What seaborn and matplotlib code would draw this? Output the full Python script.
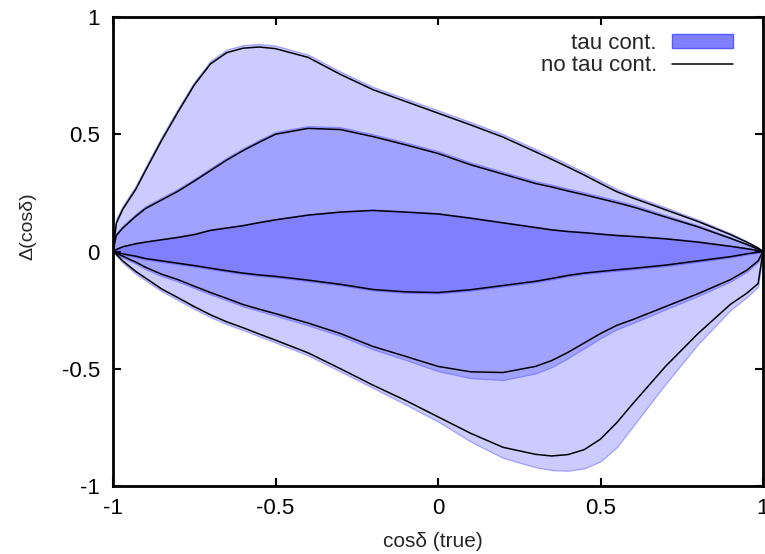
import matplotlib
matplotlib.use("Agg")
import matplotlib.pyplot as plt
import seaborn as sns
import pandas as pd
from matplotlib.patches import Patch
from matplotlib.lines import Line2D

# ---- data ----
x = [-1, -0.99, -0.97, -0.93, -0.9, -0.85, -0.8, -0.75, -0.7, -0.65, -0.6, -0.55, -0.5,
     -0.4, -0.3, -0.2, -0.1, 0, 0.1, 0.2, 0.3, 0.35, 0.4, 0.45, 0.5, 0.55, 0.6,
     0.7, 0.8, 0.9, 0.95, 0.985, 1]

# no tau contribution (black lines)
outer_up = [0, 0.12, 0.18, 0.265, 0.345, 0.475, 0.595, 0.71, 0.80, 0.848, 0.867, 0.872, 0.865,
            0.828, 0.755, 0.69, 0.64, 0.59, 0.54, 0.488, 0.425, 0.393, 0.36, 0.326, 0.29, 0.255, 0.228,
            0.178, 0.128, 0.072, 0.04, 0.015, 0]
mid_up = [0, 0.068, 0.10, 0.15, 0.183, 0.22, 0.257, 0.30, 0.345, 0.39, 0.43, 0.466, 0.50,
          0.525, 0.52, 0.49, 0.455, 0.418, 0.37, 0.33, 0.29, 0.275, 0.258, 0.242, 0.225, 0.208, 0.19,
          0.147, 0.105, 0.056, 0.03, 0.01, 0]
inner_up = [0, 0.008, 0.02, 0.033, 0.04, 0.05, 0.06, 0.072, 0.09, 0.10, 0.11, 0.123, 0.135,
            0.155, 0.168, 0.175, 0.168, 0.16, 0.142, 0.122, 0.102, 0.092, 0.085, 0.08, 0.074, 0.068, 0.064,
            0.054, 0.04, 0.022, 0.012, 0.004, 0]
inner_lo = [0, -0.004, -0.01, -0.02, -0.03, -0.04, -0.05, -0.06, -0.071, -0.082, -0.092, -0.10, -0.106,
            -0.122, -0.14, -0.162, -0.172, -0.175, -0.163, -0.145, -0.127, -0.115, -0.102, -0.092, -0.085, -0.078, -0.072,
            -0.058, -0.04, -0.022, -0.01, -0.003, 0]
mid_lo = [0, -0.008, -0.02, -0.045, -0.067, -0.097, -0.12, -0.148, -0.175, -0.20, -0.226, -0.246, -0.265,
          -0.305, -0.35, -0.405, -0.447, -0.49, -0.513, -0.516, -0.49, -0.465, -0.43, -0.39, -0.35, -0.315, -0.29,
          -0.235, -0.18, -0.12, -0.08, -0.04, 0]
outer_lo = [0, -0.012, -0.04, -0.085, -0.113, -0.16, -0.197, -0.235, -0.27, -0.30, -0.325, -0.352, -0.378,
            -0.432, -0.50, -0.57, -0.635, -0.705, -0.775, -0.835, -0.865, -0.872, -0.866, -0.845, -0.80, -0.73, -0.648,
            -0.49, -0.35, -0.225, -0.178, -0.137, 0]

# with tau contribution (filled bands)
tau_outer_up = [0, 0.14, 0.195, 0.28, 0.36, 0.49, 0.61, 0.723, 0.813, 0.861, 0.88, 0.885, 0.878,
                0.84, 0.767, 0.702, 0.652, 0.602, 0.552, 0.50, 0.437, 0.405, 0.372, 0.338, 0.302, 0.267, 0.238,
                0.188, 0.136, 0.078, 0.044, 0.017, 0]
tau_mid_up = [0, 0.078, 0.11, 0.16, 0.193, 0.23, 0.267, 0.31, 0.355, 0.40, 0.44, 0.476, 0.51,
              0.535, 0.53, 0.50, 0.465, 0.428, 0.38, 0.34, 0.30, 0.285, 0.268, 0.252, 0.235, 0.218, 0.20,
              0.155, 0.112, 0.061, 0.033, 0.012, 0]
tau_inner_up = [0, 0.012, 0.024, 0.037, 0.044, 0.054, 0.064, 0.076, 0.094, 0.104, 0.114, 0.127, 0.139,
                0.159, 0.172, 0.179, 0.172, 0.164, 0.146, 0.126, 0.106, 0.096, 0.089, 0.084, 0.078, 0.072, 0.068,
                0.058, 0.044, 0.025, 0.014, 0.005, 0]
tau_inner_lo = [0, -0.008, -0.014, -0.024, -0.034, -0.044, -0.054, -0.064, -0.075, -0.086, -0.096, -0.104, -0.11,
                -0.126, -0.144, -0.166, -0.176, -0.179, -0.167, -0.149, -0.131, -0.119, -0.106, -0.096, -0.089, -0.082, -0.076,
                -0.062, -0.044, -0.025, -0.013, -0.004, 0]
tau_mid_lo = [0, -0.012, -0.026, -0.052, -0.075, -0.105, -0.128, -0.156, -0.183, -0.208, -0.234, -0.254, -0.274,
              -0.315, -0.36, -0.417, -0.462, -0.51, -0.54, -0.548, -0.52, -0.493, -0.455, -0.412, -0.37, -0.332, -0.305,
              -0.247, -0.19, -0.128, -0.087, -0.045, 0]
tau_outer_lo = [0, -0.016, -0.048, -0.095, -0.123, -0.17, -0.207, -0.245, -0.28, -0.31, -0.335, -0.362, -0.388,
                -0.443, -0.512, -0.582, -0.652, -0.725, -0.81, -0.88, -0.92, -0.932, -0.935, -0.925, -0.895, -0.835, -0.745,
                -0.565, -0.395, -0.25, -0.195, -0.15, 0]

xticks = [-1, -0.5, 0, 0.5, 1]
yticks = [-1, -0.5, 0, 0.5, 1]
xtick_labels = ["-1", "-0.5", "0", "0.5", "1"]
ytick_labels = ["-1", "-0.5", "0", "0.5", "1"]

# ---- plotting ----
sns.set_theme(style="ticks")
plt.rcParams["font.family"] = ["Liberation Sans", "DejaVu Sans"]

FS = 16
fig = plt.figure(figsize=(7.65, 5.54), dpi=100)
ax = fig.add_axes([113 / 765, 68 / 554, 650 / 765, 469 / 554])

bands = [(tau_outer_lo, tau_outer_up), (tau_mid_lo, tau_mid_up), (tau_inner_lo, tau_inner_up)]
for lo, up in bands:
    ax.fill_between(x, lo, up, facecolor=(0, 0, 1, 0.205), edgecolor=(0.3, 0.3, 1, 0.45),
                    linewidth=0.9, zorder=1)

lines = {"outer_up": outer_up, "mid_up": mid_up, "inner_up": inner_up,
         "inner_lo": inner_lo, "mid_lo": mid_lo, "outer_lo": outer_lo}
frames = [pd.DataFrame({"x": x, "y": v, "curve": k}) for k, v in lines.items()]
df = pd.concat(frames, ignore_index=True)
sns.lineplot(data=df, x="x", y="y", units="curve", estimator=None, color="black",
             linewidth=1.1, sort=False, ax=ax, zorder=3, legend=False)

ax.set_xlim(-1, 1)
ax.set_ylim(-1, 1)
ax.set_xticks(xticks)
ax.set_xticklabels(xtick_labels)
ax.set_yticks(yticks)
ax.set_yticklabels(ytick_labels)
ax.tick_params(direction="in", length=6, width=1.5, top=True, right=True,
               labelsize=FS, colors="black")
ax.tick_params(axis="x", pad=8.5)
ax.tick_params(axis="y", pad=9.5)
for s in ax.spines.values():
    s.set_linewidth(2)
    s.set_color("black")

ax.set_xlabel("cosδ (true)", fontsize=15)
ax.set_ylabel("Δ(cosδ)", fontsize=14)
ax.xaxis.set_label_coords(0.492, -0.099)
ax.yaxis.set_label_coords(-0.118, 0.555)

handles = [Patch(facecolor=(0.5, 0.5, 1.0), edgecolor=(0.35, 0.35, 1.0), linewidth=1),
           Line2D([0], [0], color="black", linewidth=1.1)]
ax.legend(handles, ["tau cont.", "no tau cont."], loc="upper right", frameon=False,
          markerfirst=False, fontsize=FS, handlelength=2.75, handleheight=0.55,
          handletextpad=0.68, labelspacing=0.05, borderaxespad=0.0, borderpad=0.4,
          bbox_to_anchor=(0.9677, 0.985))

fig.savefig("out.png", dpi=100)
